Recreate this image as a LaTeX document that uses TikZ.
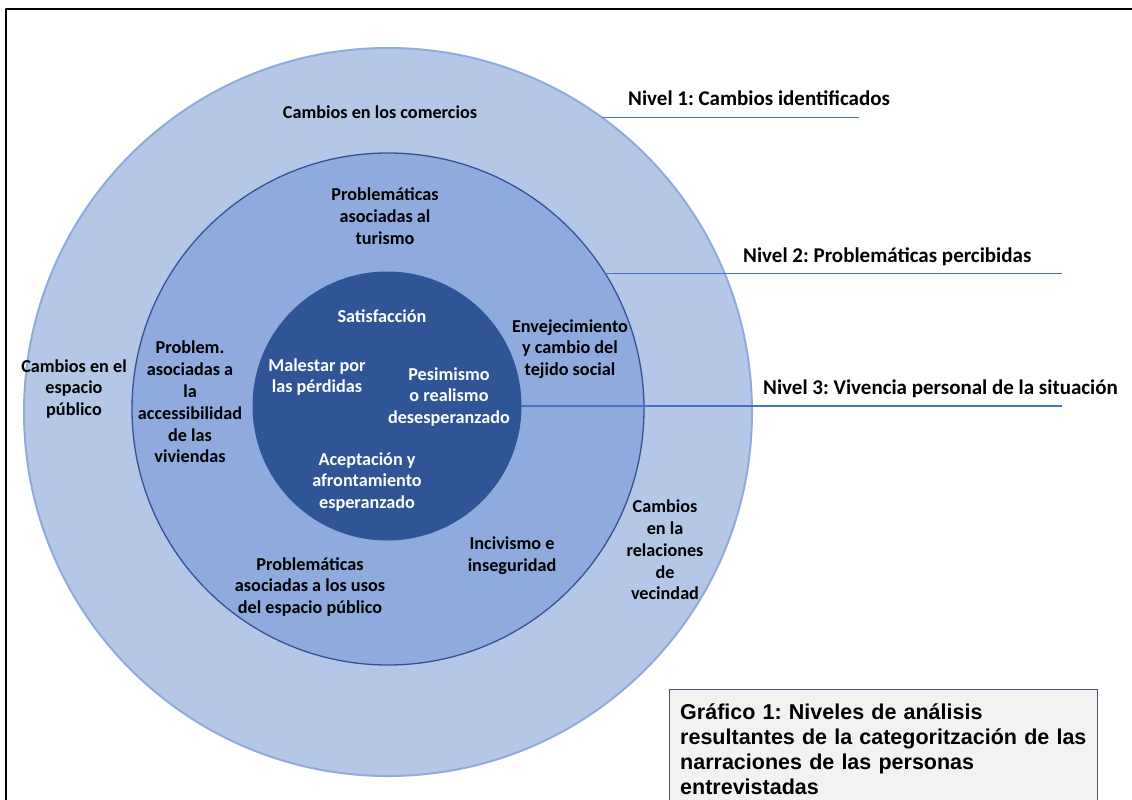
\documentclass[tikz,border=0pt]{standalone}
\usepackage{fontspec}
\setmainfont{Carlito}
\newfontfamily\captionfont{Liberation Sans}
\frenchspacing
\definecolor{anillo}{HTML}{B4C7E7}
\definecolor{anillob}{HTML}{8FAADC}
\definecolor{medio}{HTML}{8FAADC}
\definecolor{mediob}{HTML}{2F5597}
\definecolor{nucleo}{HTML}{2F5597}
\definecolor{linea}{HTML}{4472C4}
\definecolor{cajafondo}{HTML}{F2F2F2}
\definecolor{cajaborde}{HTML}{44546A}

\begin{document}
\begin{tikzpicture}[x=1pt,y=-1pt,join=round]
    \tikzstyle{ring} = [circle,inner sep=0pt,outer sep=0pt]
    \tikzstyle{lbl} = [align=center,inner sep=0pt,
                       font=\fontsize{18.2}{21.8}\selectfont\bfseries]
    \tikzstyle{lblw} = [lbl,text=white]
    \tikzstyle{nivel} = [anchor=base west,inner sep=0pt,
                         font=\fontsize{21}{24}\selectfont\bfseries]
    \tikzstyle{guide} = [draw=linea,line width=1.4pt]

    \useasboundingbox (0,0) rectangle (1132,800);
    \draw[line width=2.5pt] (6,800) -- (6,9) -- (1132,9);

    % los tres niveles
    \node[ring,fill=anillo,draw=anillob,line width=2pt,minimum size=728pt]
         (outer) at (388,412) {};
    \node[ring,fill=medio,draw=mediob,line width=1.3pt,minimum size=512pt]
         (middle) at (388,409) {};
    \node[ring,fill=nucleo,draw=nucleo,line width=1pt,minimum size=268pt]
         (inner) at (387,406) {};

    % nivel 1
    \node[lbl] (comercios) at (380,112) {Cambios en los comercios};
    \node[lbl] (espacio) at (74,389) {Cambios en el\\espacio\\público};
    \node[lbl] (vecindad) at (665,550) {Cambios\\en la\\relaciones\\de\\vecindad};

    % nivel 2
    \node[lbl] (turismo) at (385,216) {Problemáticas\\asociadas al\\turismo};
    \node[lbl] (viviendas) at (190,402)
         {Problem.\\asociadas a\\la\\accessibilidad\\de las\\viviendas};
    \node[lbl] (tejido) at (570,349) {Envejecimiento\\y cambio del\\tejido social};
    \node[lbl] (incivismo) at (512,556) {Incivismo e\\inseguridad};
    \node[lbl] (usos) at (310,587)
         {Problemáticas\\asociadas a los usos\\del espacio público};

    % nivel 3
    \node[lblw] (satisf) at (382,316) {Satisfacción};
    \node[lblw] (malestar) at (317,377) {Malestar por\\las pérdidas};
    \node[lblw] (pesimismo) at (449,397) {Pesimismo\\o realismo\\desesperanzado};
    \node[lblw] (aceptacion) at (367,482) {Aceptación y\\afrontamiento\\esperanzado};

    % guias a los rotulos
    \coordinate (n1end) at (859,117);
    \coordinate (n2end) at (1062,272);
    \coordinate (n3end) at (1062,406);
    \draw[guide] (outer.54) -- (outer.54 -| n1end);
    \draw[guide] (middle.32.4) -- (middle.32.4 -| n2end);
    \draw[guide] (inner.east) -- (inner.east -| n3end);
    \node[nivel] (nivel1) at (628,105) {Nivel 1: Cambios identificados};
    \node[nivel] (nivel2) at (743,262) {Nivel 2: Problemáticas percibidas};
    \node[nivel] (nivel3) at (763,394) {Nivel 3: Vivencia personal de la situación};

    % titulo del grafico
    \filldraw[draw=cajaborde,fill=cajafondo,line width=1pt]
         (669,689) rectangle (1097,830);
    \node[anchor=base west,align=left,text width=420pt,inner sep=0pt,
          font=\captionfont\fontsize{21.5}{25}\selectfont\bfseries]
         (grafico) at (680,719)
         {Gráfico 1: Niveles de análisis\\
          resultantes de la categoritzación de las\\
          narraciones de las personas\\
          entrevistadas};
\end{tikzpicture}
\end{document}
